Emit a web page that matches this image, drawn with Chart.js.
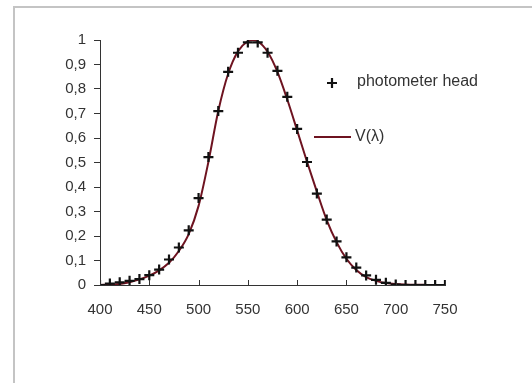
<!DOCTYPE html>
<html>
<head>
<meta charset="utf-8">
<script src="https://cdn.jsdelivr.net/npm/chart.js@4"></script>
<style>
  body { margin: 0; background: #fff; }
  #wrap { position: relative; width: 532px; height: 383px; overflow: hidden; }
  #frame { position: absolute; left: 13px; top: 6px; width: 600px; height: 500px;
           border-left: 2px solid #c4c4c4; border-top: 2px solid #c4c4c4; }
  canvas { position: absolute; left: 0; top: 0; }
</style>
</head>
<body>
<div id="wrap">
  <div id="frame"></div>
  <canvas id="myChart" width="532" height="383"></canvas>
</div>
<script>
// wavelengths (nm) of the photometer head readings
const headWavelengths = [400, 410, 420, 430, 440, 450, 460, 470, 480, 490, 500, 510, 520, 530, 540, 550, 560, 570,
  580, 590, 600, 610, 620, 630, 640, 650, 660, 670, 680, 690, 700, 710, 720, 730, 740, 750];
const headValues = [0, 0.006, 0.011, 0.017, 0.024, 0.04, 0.063, 0.104, 0.153, 0.223, 0.355, 0.522, 0.71, 0.87, 0.948, 0.99, 0.99, 0.948,
  0.874, 0.768, 0.637, 0.502, 0.373, 0.267, 0.178, 0.113, 0.071, 0.039, 0.021, 0.009, 0.002, 0, 0, 0, 0, 0];

// V(lambda) curve
const curveWavelengths = [400, 410, 420, 430, 440, 450, 460, 470, 480, 490, 500, 510, 520, 530, 540, 550, 555, 560, 570,
  580, 590, 600, 610, 620, 630, 640, 650, 660, 670, 680, 690, 700, 710, 720, 730, 740, 750];
const curveValues = [0.0004, 0.0012, 0.004, 0.0116, 0.023, 0.038, 0.06, 0.091, 0.139, 0.208, 0.323, 0.503, 0.71, 0.862, 0.954, 0.995, 1, 0.995, 0.952,
  0.87, 0.757, 0.631, 0.503, 0.381, 0.265, 0.175, 0.107, 0.061, 0.032, 0.017, 0.0082, 0.0041, 0.0021, 0.001, 0.0005, 0.0002, 0.0001];

const xTicks = [400, 450, 500, 550, 600, 650, 700, 750];
const yTicks = ['0', '0,1', '0,2', '0,3', '0,4', '0,5', '0,6', '0,7', '0,8', '0,9', '1'];

const labelColor = '#333';
const curveColor = '#6e1320';
const fontFamily = '"Liberation Sans", Arial, sans-serif';

// short tick marks pointing up from the x axis
const innerTicks = {
  id: 'innerTicks',
  afterDraw(chart) {
    const c = chart.ctx, xs = chart.scales.x, bottom = chart.chartArea.bottom;
    c.save();
    c.strokeStyle = '#333';
    c.lineWidth = 1;
    xTicks.forEach(v => {
      const px = Math.round(xs.getPixelForValue(v)) + 0.5;
      c.beginPath();
      c.moveTo(px, bottom);
      c.lineTo(px, bottom - 5);
      c.stroke();
    });
    c.restore();
  }
};

// legend placed inside the plot, to the right of the curve
const sideLegend = {
  id: 'sideLegend',
  afterDraw(chart) {
    const c = chart.ctx;
    const pts = chart.data.datasets[0], line = chart.data.datasets[1];
    c.save();
    c.font = '16px ' + fontFamily;
    c.fillStyle = labelColor;
    c.textBaseline = 'middle';
    // cross
    c.strokeStyle = pts.borderColor;
    c.lineWidth = 2.2;
    c.beginPath();
    c.moveTo(327, 83); c.lineTo(337, 83);
    c.moveTo(332, 78); c.lineTo(332, 88);
    c.stroke();
    c.fillText(pts.label, 357, 82);
    // line
    c.strokeStyle = line.borderColor;
    c.lineWidth = 2;
    c.beginPath();
    c.moveTo(314, 137); c.lineTo(351, 137);
    c.stroke();
    c.fillText(line.label, 355, 137);
    c.restore();
  }
};

new Chart(document.getElementById('myChart'), {
  type: 'scatter',
  data: {
    datasets: [{
      label: 'photometer head',
      data: headWavelengths.map((x, i) => ({ x: x, y: headValues[i] })),
      pointStyle: 'cross',
      pointRadius: 5,
      borderColor: '#111',
      borderWidth: 2.2,
      showLine: false,
      order: 0
    }, {
      label: 'V(\u03bb)',
      data: curveWavelengths.map((x, i) => ({ x: x, y: curveValues[i] })),
      showLine: true,
      borderColor: curveColor,
      borderWidth: 2,
      pointRadius: 0,
      cubicInterpolationMode: 'monotone',
      order: 1
    }]
  },
  options: {
    responsive: false,
    animation: false,
    layout: { padding: { left: 0, top: 40, right: 87, bottom: 68 } },
    plugins: { legend: { display: false }, tooltip: { enabled: false } },
    scales: {
      x: {
        type: 'linear',
        min: 400,
        max: 750,
        afterBuildTicks: s => { s.ticks = xTicks.map(v => ({ value: v })); },
        afterFit: s => { s.height = 30; },
        grid: { display: false, drawTicks: false },
        border: { display: true, color: '#333', width: 1 },
        ticks: { color: labelColor, padding: 16, maxRotation: 0, font: { size: 15, family: fontFamily } }
      },
      y: {
        min: 0,
        max: 1,
        afterBuildTicks: s => { s.ticks = yTicks.map((t, i) => ({ value: i / 10 })); },
        afterFit: s => { s.width = 100; },
        grid: { drawOnChartArea: false, drawTicks: true, tickLength: 6, color: '#333' },
        border: { display: true, color: '#333', width: 1 },
        ticks: {
          color: labelColor,
          padding: 8,
          font: { size: 15, family: fontFamily },
          callback: (v, i) => yTicks[i]
        }
      }
    }
  },
  plugins: [innerTicks, sideLegend]
});
</script>
</body>
</html>
